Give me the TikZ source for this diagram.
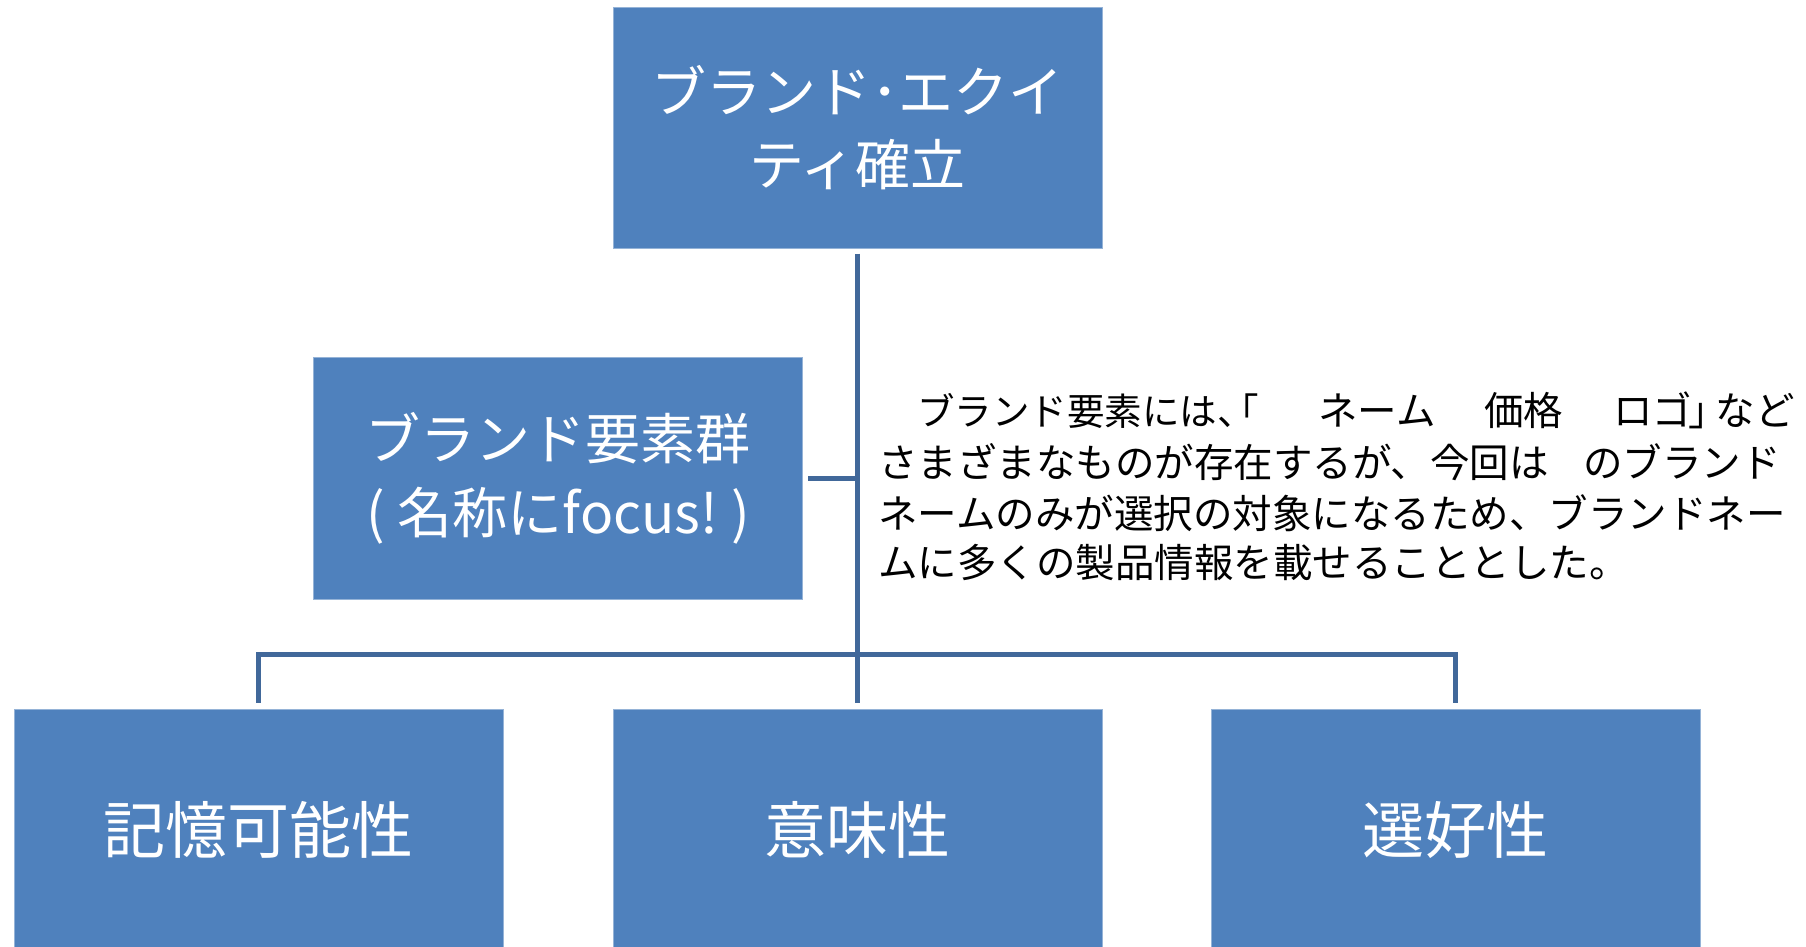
\documentclass[tikz,border=0pt]{standalone}
\usepackage{fontspec}
\setmainfont{Noto Sans CJK JP}
\usetikzlibrary{calc}
\definecolor{boxfill}{HTML}{4F81BD}
\definecolor{boxedge}{HTML}{95B3D7}
\definecolor{conncol}{HTML}{41689A}
\tikzset{
  box/.style={rectangle, fill=boxfill, draw=boxedge, line width=1pt, inner sep=0pt,
    minimum width=489pt, minimum height=241pt, text=white, align=center},
  conn/.style={draw=conncol, line width=5pt},
  para/.style={anchor=base west, inner sep=0pt, font=\fontsize{39.5}{39.5}\selectfont},
}
\begin{document}
\begin{tikzpicture}[x=1pt,y=-1pt]
\useasboundingbox (0,0) rectangle (1806,946);
\clip (0,0) rectangle (1806,946);
\node[box, font=\fontsize{55}{73}\selectfont] (top) at (857.5,127.5) {ブランド･エクイ\\ティ確立};
\node[box, minimum height=242pt, font=\fontsize{55}{74}\selectfont] (mid) at (558,478) {ブランド要素群\\(\kern13pt 名称にfocus!\kern13pt)};
\node[box, font=\fontsize{62}{62}\selectfont] (b1) at (258.5,829.5) {\raisebox{4pt}{記憶可能性}};
\node[box, font=\fontsize{62}{62}\selectfont] (b2) at (857.5,829.5) {\raisebox{4pt}{意味性}};
\node[box, font=\fontsize{62}{62}\selectfont] (b3) at (1455.5,829.5) {\raisebox{4pt}{選好性}};
\coordinate (bar) at (0,654);
\draw[conn] ($(top.south)+(0,5)$) -- ($(b2.north)+(0,-6)$);
\draw[conn] ($(b1.north)+(0,-6)$) -- (b1.north |- bar) -- (b3.north |- bar) -- ($(b3.north)+(0,-6)$);
\draw[conn] ($(mid.east)+(5,0)$) -- (top.south |- mid.east);
\node[para, font=\fontsize{37.5}{37.5}\selectfont] (p1a) at (917,425) {ブランド要素には、\kern-0.9em「};
\node[para] (p1b) at (1318,425) {ネーム};
\node[para] (p1c) at (1484,425) {価格};
\node[para] (p1d) at (1613,425) {ロゴ\kern-0.1em」\kern-0.3emなど};
\node[para] (p2a) at (878,477) {さまざまなものが存在するが、今回は};
\node[para] (p2b) at (1583,477) {のブランド};
\node[para] (p3) at (878,528) {ネームのみが選択の対象になるため、ブランドネー};
\node[para] (p4) at (878,577) {ムに多くの製品情報を載せることとした。};
\end{tikzpicture}
\end{document}
